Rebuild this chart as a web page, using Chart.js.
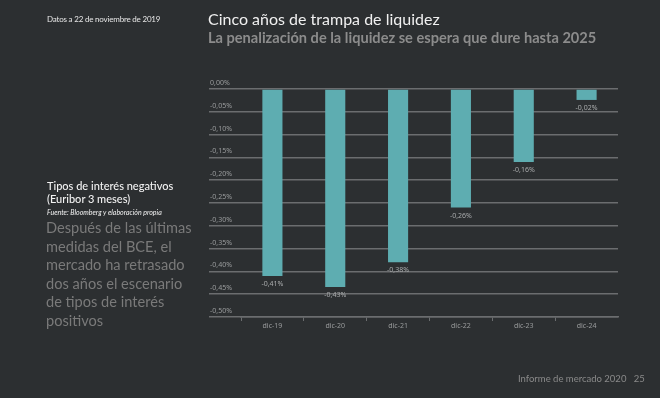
<!DOCTYPE html>
<html>
<head>
<meta charset="utf-8">
<script src="https://cdn.jsdelivr.net/npm/chart.js@4/dist/chart.umd.min.js"></script>
<style>
  html, body { margin: 0; padding: 0; background: #2c2f31; }
  #wrap { position: relative; width: 660px; height: 398px; overflow: hidden; background: #2c2f31; font-family: "Lato", "Noto Sans", sans-serif; }
  canvas { position: absolute; left: 0; top: 0; }
  .t { position: absolute; white-space: nowrap; }
</style>
</head>
<body>
<div id="wrap">
  <canvas id="c" width="660" height="398"></canvas>
  <div class="t" style="left:47px;top:14px;font-size:8px;color:#e6e6e6;font-family:'Liberation Sans Narrow','Lato',sans-serif;letter-spacing:-0.2px;">Datos a 22 de noviembre de 2019</div>
  <div class="t" style="left:208px;top:9px;font-size:16px;color:#f0f0f0;">Cinco años de trampa de liquidez</div>
  <div class="t" style="left:208px;top:29px;font-size:14.6px;font-weight:bold;color:#8c8c8c;">La penalización de la liquidez se espera que dure hasta 2025</div>
  <div class="t" style="left:47px;top:179px;font-size:11px;line-height:13px;color:#f2f2f2;font-weight:500;">Tipos de interés negativos<br>(Euribor 3 meses)</div>
  <div class="t" style="left:47px;top:208px;font-size:7px;font-style:italic;color:#f2f2f2;">Fuente: Bloomberg y elaboración propia</div>
  <div class="t" style="left:46px;top:219px;font-size:14.6px;line-height:18.6px;color:#7a7a7a;">Después de las últimas<br>medidas del BCE, el<br>mercado ha retrasado<br>dos años el escenario<br>de tipos de interés<br>positivos</div>
  <div class="t" style="left:518px;top:373px;font-size:9.5px;color:#8a8a8a;">Informe de mercado 2020&nbsp;&nbsp;&nbsp;25</div>
</div>
<script>
const categories = ["dic-19", "dic-20", "dic-21", "dic-22", "dic-23", "dic-24"];
const euribor3m = [-0.41, -0.434, -0.38, -0.26, -0.16, -0.024];
const yMin = -0.5;
const yMax = 0;
const yStep = 0.05;

const fmt = v => (v.toFixed(2)).replace('.', ',') + '%';
const gridColor = '#6b6d6f';
const textColor = '#9a9c9d';

const valueLabels = {
  id: 'valueLabels',
  afterDatasetsDraw(chart) {
    const ctx = chart.ctx;
    const meta = chart.getDatasetMeta(0);
    ctx.save();
    ctx.font = '7px "Noto Sans", sans-serif';
    ctx.fillStyle = '#a9abac';
    ctx.textAlign = 'center';
    ctx.textBaseline = 'middle';
    meta.data.forEach((bar, i) => {
      ctx.fillText(fmt(chart.data.datasets[0].data[i]), bar.x, bar.y + 8);
    });
    ctx.restore();
  }
};

new Chart(document.getElementById('c'), {
  type: 'bar',
  data: {
    labels: categories,
    datasets: [{
      data: euribor3m,
      backgroundColor: '#5eadb1',
      borderWidth: 0,
      barPercentage: 0.64,
      categoryPercentage: 0.5
    }]
  },
  options: {
    responsive: false,
    animation: false,
    layout: { padding: { left: 209, right: 42, top: 89, bottom: 61 } },
    plugins: { legend: { display: false }, tooltip: { enabled: false } },
    scales: {
      y: {
        min: yMin,
        max: yMax,
        afterFit(s) { s.width = 32; },
        ticks: {
          stepSize: yStep,
          mirror: true,
          padding: -31,
          labelOffset: -6,
          color: textColor,
          font: { size: 7, family: '"Noto Sans", sans-serif' },
          callback: v => fmt(v)
        },
        grid: { color: gridColor, lineWidth: 1.5, tickLength: 32, drawTicks: true },
        border: { display: false }
      },
      x: {
        afterFit(s) { s.height = 20; },
        ticks: {
          color: textColor,
          padding: 1,
          font: { size: 7, family: '"Noto Sans", sans-serif' }
        },
        grid: {
          offset: true,
          drawOnChartArea: false,
          tickLength: 4,
          color: c => c.type === 'tick' ? gridColor : 'rgba(0,0,0,0)'
        },
        border: { display: true, color: gridColor, width: 1.5 }
      }
    }
  },
  plugins: [valueLabels]
});
</script>
</body>
</html>
